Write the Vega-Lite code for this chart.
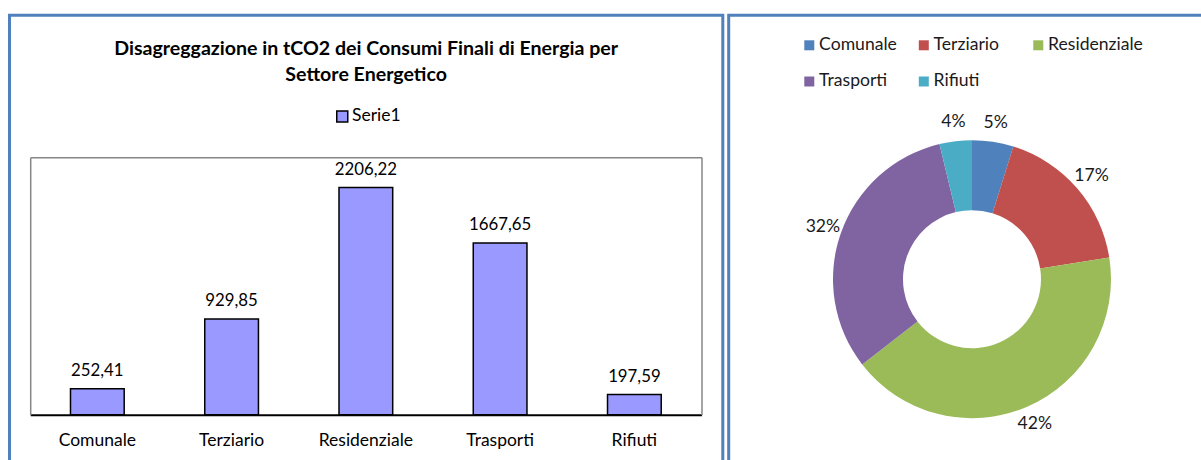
{
  "$schema": "https://vega.github.io/schema/vega-lite/v6.json",
  "background": "white",
  "padding": {"left": 7.5, "top": 13.2, "right": 0, "bottom": 0},
  "spacing": 2.2,
  "config": {
    "font": "Lato",
    "view": {"stroke": null},
    "locale": {
      "number": {"decimal": ",", "thousands": ".", "grouping": [3], "currency": ["", " €"]}
    }
  },
  "resolve": {"scale": {"color": "independent"}, "legend": {"color": "independent"}},
  "data": {
    "values": [
      {"settore": "Comunale", "tco2": 252.41, "pct": "5%", "ord": 1},
      {"settore": "Terziario", "tco2": 929.85, "pct": "17%", "ord": 2},
      {"settore": "Residenziale", "tco2": 2206.22, "pct": "42%", "ord": 3},
      {"settore": "Trasporti", "tco2": 1667.65, "pct": "32%", "ord": 4},
      {"settore": "Rifiuti", "tco2": 197.59, "pct": "4%", "ord": 5}
    ]
  },
  "hconcat": [
    {
      "width": 713.3,
      "height": 528,
      "view": {"stroke": "#4F81BD", "strokeWidth": 3},
      "title": {
        "text": ["Disagreggazione in tCO2 dei Consumi Finali di Energia per", "Settore Energetico"],
        "font": "Lato",
        "fontSize": 19.6,
        "fontWeight": "bold",
        "lineHeight": 25.5,
        "anchor": "middle",
        "frame": "group",
        "offset": 0,
        "dy": 70,
        "color": "#000000"
      },
      "resolve": {"axis": {"x": "independent", "y": "independent"}},
      "layer": [
        {
          "mark": {"type": "bar", "stroke": "#000000", "strokeWidth": 1.5},
          "encoding": {
            "x": {
              "field": "settore",
              "type": "nominal",
              "sort": null,
              "scale": {"range": [20.7, 692], "paddingInner": 0.6, "paddingOuter": 0.3},
              "axis": {
                "orient": "bottom",
                "offset": -128.4,
                "title": null,
                "labelAngle": 0,
                "ticks": false,
                "tickSize": 0,
                "domainColor": "#000000",
                "domainWidth": 2,
                "labelFont": "Lato",
                "labelFontSize": 17.5,
                "labelColor": "#000000",
                "labelPadding": 17,
                "grid": false
              }
            },
            "y": {
              "field": "tco2",
              "type": "quantitative",
              "scale": {"domain": [0, 2500], "range": [399.6, 142], "nice": false},
              "axis": {
                "orient": "left",
                "offset": -20.7,
                "title": null,
                "labels": false,
                "ticks": false,
                "grid": false,
                "domainColor": "#868686",
                "domainWidth": 1.5
              }
            },
            "color": {
              "datum": "Serie1",
              "scale": {"range": ["#9999FF"]},
              "legend": {
                "title": null,
                "orient": "none",
                "legendX": 324,
                "legendY": 92.5,
                "padding": 0,
                "symbolType": "square",
                "symbolSize": 121,
                "symbolStrokeColor": "#000000",
                "symbolStrokeWidth": 1.5,
                "labelFont": "Lato",
                "labelFontSize": 17.5,
                "labelColor": "#000000",
                "labelOffset": 1
              }
            }
          }
        },
        {
          "mark": {"type": "text", "baseline": "alphabetic", "dy": -12.5, "font": "Lato", "fontSize": 16.8, "fill": "#000000"},
          "encoding": {
            "x": {
              "field": "settore",
              "type": "nominal",
              "sort": null,
              "axis": {
                "orient": "top",
                "offset": -142,
                "title": null,
                "labels": false,
                "ticks": false,
                "grid": false,
                "domainColor": "#868686",
                "domainWidth": 1.5
              }
            },
            "y": {
              "field": "tco2",
              "type": "quantitative",
              "axis": {
                "orient": "right",
                "offset": -21.3,
                "title": null,
                "labels": false,
                "ticks": false,
                "grid": false,
                "domainColor": "#868686",
                "domainWidth": 1.5
              }
            },
            "text": {"field": "tco2", "type": "quantitative", "format": ".2f"}
          }
        }
      ]
    },
    {
      "width": 486.6,
      "height": 528,
      "view": {"stroke": "#4F81BD", "strokeWidth": 3},
      "encoding": {
        "theta": {"field": "tco2", "type": "quantitative", "stack": true},
        "order": {"field": "ord", "type": "quantitative"}
      },
      "layer": [
        {
          "mark": {"type": "arc", "outerRadius": 139, "innerRadius": 69},
          "encoding": {
            "color": {
              "field": "settore",
              "type": "nominal",
              "scale": {
                "domain": ["Comunale", "Terziario", "Residenziale", "Trasporti", "Rifiuti"],
                "range": ["#4F81BD", "#C0504D", "#9BBB59", "#8064A2", "#4BACC6"]
              },
              "legend": {
                "title": null,
                "orient": "none",
                "legendX": 71.8,
                "legendY": 21,
                "direction": "horizontal",
                "columns": 3,
                "gridAlign": "all",
                "columnPadding": 0.5,
                "rowPadding": 17.5,
                "padding": 0,
                "symbolType": "square",
                "symbolSize": 100,
                "symbolStrokeWidth": 0,
                "labelFont": "Lato",
                "labelFontSize": 17.6,
                "labelColor": "#1a1a1a",
                "labelOffset": 1,
                "labelLimit": 300
              }
            }
          }
        },
        {
          "mark": {"type": "text", "radius": 158, "font": "Lato", "fontSize": 17.6, "fill": "#1a1a1a"},
          "encoding": {
            "detail": {"field": "settore", "type": "nominal"},
            "text": {"field": "pct", "type": "nominal"}
          }
        }
      ]
    }
  ]
}
